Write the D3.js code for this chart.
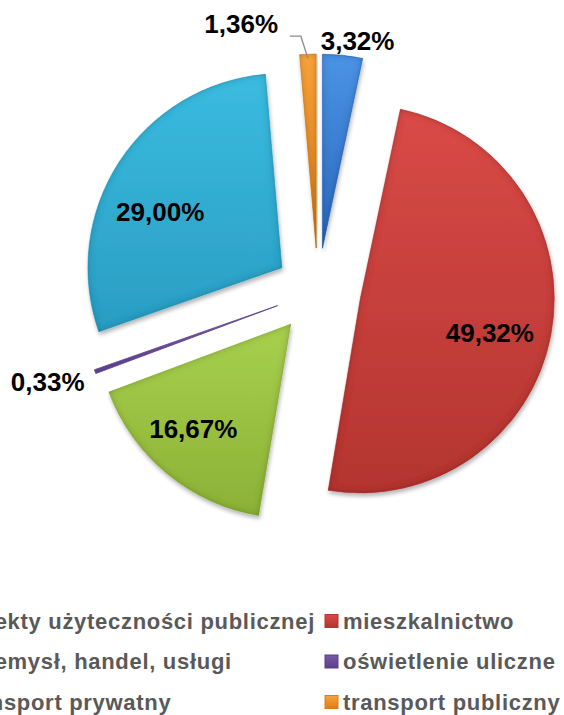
<!DOCTYPE html>
<html>
<head>
<meta charset="utf-8">
<script src="https://cdn.jsdelivr.net/npm/d3@7"></script>
<style>
  html, body { margin: 0; padding: 0; background: #fff; }
  svg { display: block; }
</style>
</head>
<body>
<svg id="chart" width="564" height="715"></svg>
<script>
// ---- data ----
const categories = [
  "obiekty użyteczności publicznej",
  "mieszkalnictwo",
  "przemysł, handel, usługi",
  "oświetlenie uliczne",
  "transport prywatny",
  "transport publiczny"
];
const values = [3.32, 49.32, 16.67, 0.33, 29.00, 1.36];
const labelTexts = ["3,32%", "49,32%", "16,67%", "0,33%", "29,00%", "1,36%"];

// ---- styles / layout ----
const colorsLight = ["#4a93e6", "#d94a47", "#a8d04e", "#7a5aa8", "#3bbbe0", "#f9a23c"];
const colorsDark  = ["#2c68bd", "#b33530", "#8cb136", "#5a3f8a", "#2a9dc2", "#dd7c18"];
const W = 564, H = 715;
const cx = 318, cy = 291, R = 194, explode = 43;
// label placement: radius from slice apex and angle nudge (degrees)
const labelLayout = [
  { r: 211, da: 3.6 },
  { r: 134, da: 4 },
  { r: 143, da: 3.4 },
  { r: 242, da: 1.7 },
  { r: 134, da: -8.2 },
  { r: 237, da: -16 }
];

const svg = d3.select("#chart");
const defs = svg.append("defs");

// bevel filter
const f = defs.append("filter").attr("id", "bevel")
  .attr("x", "-10%").attr("y", "-10%").attr("width", "120%").attr("height", "120%");
f.append("feGaussianBlur").attr("in", "SourceAlpha").attr("stdDeviation", 3.5).attr("result", "blur");
f.append("feComposite").attr("in", "SourceAlpha").attr("in2", "blur")
  .attr("operator", "arithmetic").attr("k2", 1).attr("k3", -1).attr("result", "edge");
f.append("feFlood").attr("flood-color", "#000").attr("flood-opacity", 0.45).attr("result", "dark");
f.append("feComposite").attr("in", "dark").attr("in2", "edge").attr("operator", "in").attr("result", "shade");
f.append("feGaussianBlur").attr("in", "SourceAlpha").attr("stdDeviation", 2).attr("result", "sblur");
f.append("feOffset").attr("in", "sblur").attr("dx", 1).attr("dy", 3).attr("result", "soff");
f.append("feComponentTransfer").attr("in", "soff").attr("result", "shadow")
  .append("feFuncA").attr("type", "linear").attr("slope", 0.3);
const m = f.append("feMerge");
m.append("feMergeNode").attr("in", "shadow");
m.append("feMergeNode").attr("in", "SourceGraphic");
m.append("feMergeNode").attr("in", "shade");

// gradients
categories.forEach((c, i) => {
  const g = defs.append("linearGradient").attr("id", "grad" + i)
    .attr("x1", 0).attr("y1", 0).attr("x2", 0).attr("y2", 1);
  g.append("stop").attr("offset", "0%").attr("stop-color", colorsLight[i]);
  g.append("stop").attr("offset", "100%").attr("stop-color", colorsDark[i]);
});

const pie = d3.pie().sort(null).value(d => d);
const arcs = pie(values);
const arc = d3.arc().innerRadius(0).outerRadius(R);

const dirOf = a => [Math.sin(a), -Math.cos(a)];

const g = svg.append("g").attr("transform", `translate(${cx},${cy})`);

arcs.forEach((a, i) => {
  const mid = (a.startAngle + a.endAngle) / 2;
  const [ux, uy] = dirOf(mid);
  g.append("path")
    .attr("d", arc(a))
    .attr("transform", `translate(${ux * explode},${uy * explode})`)
    .attr("fill", `url(#grad${i})`)
    .attr("stroke", colorsDark[i])
    .attr("stroke-width", i === 3 ? 0.8 : 0.6)
    .attr("filter", i === 3 ? null : "url(#bevel)");
});

// labels
const fmtFont = "'Liberation Sans', Arial, sans-serif";
arcs.forEach((a, i) => {
  const L = labelLayout[i];
  const amid = (a.startAngle + a.endAngle) / 2;
  const mid = amid + L.da * Math.PI / 180;
  const [ex, ey] = dirOf(amid);
  const [ux, uy] = dirOf(mid);
  g.append("text")
    .attr("x", ex * explode + ux * L.r)
    .attr("y", ey * explode + uy * L.r)
    .attr("dy", "0.36em")
    .attr("text-anchor", "middle")
    .attr("font-family", fmtFont).attr("font-weight", "bold")
    .attr("font-size", 26).attr("fill", "#000")
    .text(labelTexts[i]);
});

// leader line for the small orange slice
(function () {
  const a = arcs[5];
  const amid = (a.startAngle + a.endAngle) / 2;
  const [ex, ey] = dirOf(amid);
  const p0 = [ex * (explode + R), ey * (explode + R) + 4];
  const p1 = [p0[0] - 7, p0[1] - 22];
  const p2 = [p1[0] - 11, p1[1]];
  g.append("polyline")
    .attr("points", [p0, p1, p2].map(p => p.join(",")).join(" "))
    .attr("fill", "none").attr("stroke", "#8c8c8c").attr("stroke-width", 1.3);
})();

// legend
const lg = svg.append("g");
const rightMarkerX = 325, markerSize = 13, textGap = 18, rowY0 = 621, rowStep = 40.5;
const legendFont = 22;
const tmp = lg.append("text").attr("font-family", fmtFont).attr("font-weight", "bold")
  .attr("font-size", legendFont).attr("letter-spacing", "0.7px").text(categories[0]);
const leftW = tmp.node().getComputedTextLength();
tmp.remove();
const leftTextX = rightMarkerX - 10 - leftW;
const colX = [leftTextX - textGap, rightMarkerX];

categories.forEach((c, i) => {
  const col = i % 2, row = Math.floor(i / 2);
  const mx = colX[col], my = rowY0 + row * rowStep;
  lg.append("rect")
    .attr("x", mx).attr("y", my - markerSize / 2)
    .attr("width", markerSize).attr("height", markerSize)
    .attr("fill", `url(#grad${i})`).attr("stroke", colorsDark[i]).attr("stroke-width", 1);
  lg.append("text")
    .attr("x", mx + textGap).attr("y", my).attr("dy", "0.36em")
    .attr("font-family", fmtFont).attr("font-weight", "bold")
    .attr("font-size", legendFont).attr("letter-spacing", "0.7px")
    .attr("fill", "#595959")
    .text(c);
});
</script>
</body>
</html>
